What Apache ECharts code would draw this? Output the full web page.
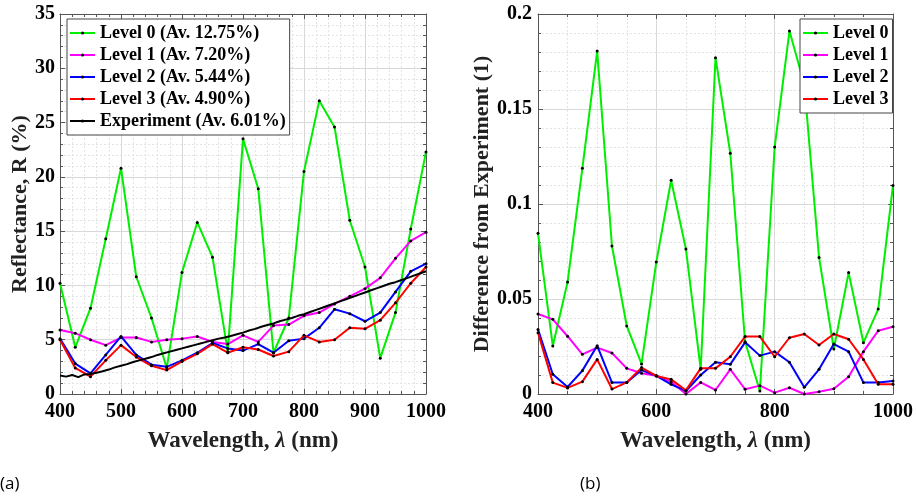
<!DOCTYPE html>
<html><head><meta charset="utf-8">
<script src="https://cdn.jsdelivr.net/npm/echarts@6/dist/echarts.min.js"></script>
<style>html,body{margin:0;padding:0;background:#fff}#c{width:916px;height:499px}</style>
</head><body><div id="c"></div>
<script>
// wavelengths (nm) of the simulated levels
const wl = [400,425,450,475,500,525,550,575,600,625,650,675,700,725,750,775,800,825,850,875,900,925,950,975,1000];
// (a) Reflectance (%)
const level0 = [10.2,4.3,7.9,14.3,20.8,10.8,7.0,2.4,11.2,15.8,12.6,3.9,23.5,18.9,3.8,7.0,20.5,27.0,24.6,16.0,11.7,3.3,7.5,15.2,22.3];
const level1 = [5.9,5.6,5.0,4.5,5.2,5.2,4.8,5.0,5.1,5.3,4.8,4.6,5.4,4.8,6.3,6.4,7.2,7.5,8.3,9.0,9.7,10.7,12.5,14.1,14.9];
const level2 = [5.1,2.8,1.9,3.6,5.3,3.6,2.7,2.5,3.1,3.8,4.7,4.2,4.0,4.6,3.8,4.9,5.1,6.1,7.8,7.4,6.7,7.5,9.4,11.3,12.0];
const level3 = [5.0,2.4,1.6,3.1,4.5,3.4,2.6,2.2,3.0,3.7,4.6,3.8,4.3,4.1,3.5,3.9,5.4,4.8,5.0,6.1,6.0,6.8,8.4,10.2,11.7];
// experiment (every 10 nm)
const expWl = [400,410,420,430,440,450,460,470,480,490,500,510,520,530,540,550,560,570,580,590,600,610,620,630,640,650,660,670,680,690,700,710,720,730,740,750,760,770,780,790,800,810,820,830,840,850,860,870,880,890,900,910,920,930,940,950,960,970,980,990,1000];
const expR = [1.7,1.6,1.75,1.55,1.8,1.85,1.95,2.1,2.25,2.45,2.6,2.75,2.95,3.1,3.25,3.4,3.6,3.75,3.9,4.05,4.2,4.35,4.5,4.65,4.8,4.95,5.1,5.2,5.35,5.5,5.65,5.85,6.0,6.2,6.35,6.5,6.7,6.85,7.0,7.2,7.35,7.55,7.75,7.95,8.15,8.35,8.55,8.75,8.95,9.15,9.35,9.55,9.75,9.95,10.15,10.3,10.5,10.7,10.9,11.1,11.3];
// (b) Difference from experiment (1)
const diff0 = [0.0846,0.0253,0.059,0.1188,0.1805,0.0779,0.0358,0.0158,0.0695,0.1125,0.0763,0.013,0.177,0.1267,0.0275,0.0016,0.130,0.191,0.163,0.0719,0.0237,0.0639,0.027,0.0447,0.1098];
const diff1 = [0.0421,0.0393,0.0304,0.0209,0.0244,0.0216,0.0135,0.0109,0.0096,0.0065,0.0,0.0061,0.0021,0.013,0.0025,0.0044,0.0007,0.0033,0.0,0.0012,0.0028,0.0091,0.0223,0.0333,0.0354];
const diff2 = [0.034,0.0104,0.0037,0.0123,0.0254,0.006,0.006,0.0126,0.0096,0.0051,0.0016,0.01,0.0167,0.0156,0.0272,0.0202,0.0223,0.0167,0.0035,0.013,0.0263,0.0223,0.006,0.006,0.0068];
const diff3 = [0.0323,0.006,0.0032,0.0065,0.0182,0.0026,0.0061,0.0139,0.0095,0.0077,0.0019,0.0135,0.0135,0.0196,0.0302,0.0302,0.0196,0.0296,0.0316,0.0258,0.0316,0.0288,0.0182,0.0051,0.0051];
const namesA = ['Level 0 (Av. 12.75%)','Level 1 (Av. 7.20%)','Level 2 (Av. 5.44%)','Level 3 (Av. 4.90%)','Experiment (Av. 6.01%)'];
const namesB = ['Level 0','Level 1','Level 2','Level 3'];
const colors = ['#00ee00','#ff00ff','#0000ff','#ff0000','#000000'];

const F = 'Liberation Serif';
const axisCol = '#555';
const zip = (xs, ys) => xs.map((x, i) => [x, ys[i]]);
const plain = v => String(v);

function xAx(grid, interval, split, pos) {
  const top = pos === 'top';
  return {
    type: 'value', gridIndex: grid, position: pos, min: 400, max: 1000, interval: interval,
    axisLine: { show: true, onZero: false, lineStyle: { color: axisCol, width: 1 } },
    axisTick: { show: true, inside: true, length: 5, lineStyle: { color: axisCol } },
    minorTick: { show: true, splitNumber: split, length: 3, lineStyle: { color: axisCol } },
    axisLabel: { show: !top, margin: 8, color: '#000', fontFamily: F, fontWeight: 'bold', fontSize: 20, formatter: plain },
    splitLine: { show: !top, lineStyle: { color: '#d8d8d8', width: 1 } },
    minorSplitLine: { show: !top, lineStyle: { color: '#e3e3e3', type: [2, 2], width: 1 } },
    name: top ? '' : '{b|Wavelength, }{i|λ}{b| (nm)}', nameLocation: 'middle', nameGap: 36,
    nameTextStyle: { rich: { b: { fontFamily: F, fontWeight: 'bold', fontSize: 23, color: '#222' },
                             i: { fontFamily: F, fontStyle: 'italic', fontWeight: 'bold', fontSize: 23, color: '#222' } } }
  };
}
function yAx(grid, max, interval, split, pos, name, gap, margin) {
  const right = pos === 'right';
  return {
    type: 'value', gridIndex: grid, position: pos, min: 0, max: max, interval: interval,
    axisLine: { show: true, onZero: false, lineStyle: { color: axisCol, width: 1 } },
    axisTick: { show: true, inside: true, length: 5, lineStyle: { color: axisCol } },
    minorTick: { show: true, splitNumber: split, length: 3, lineStyle: { color: axisCol } },
    axisLabel: { show: !right, margin: margin, color: '#000', fontFamily: F, fontWeight: 'bold', fontSize: 20, formatter: plain },
    splitLine: { show: !right, lineStyle: { color: '#d8d8d8', width: 1 } },
    minorSplitLine: { show: !right, lineStyle: { color: '#e3e3e3', type: [2, 2], width: 1 } },
    name: right ? '' : name, nameLocation: 'middle', nameGap: gap,
    nameTextStyle: { fontFamily: F, fontWeight: 'bold', fontSize: 22, color: '#222' }
  };
}
function ser(name, x, y, xi, yi, color, marker) {
  return {
    type: 'line', name: name, xAxisIndex: xi, yAxisIndex: yi, data: zip(x, y),
    symbol: marker ? 'circle' : 'none', symbolSize: 3, showSymbol: marker,
    itemStyle: { color: '#000' }, lineStyle: { color: color, width: 2 },
    emphasis: { disabled: true }, z: 3
  };
}
const legendBase = {
  orient: 'vertical', backgroundColor: '#fff', borderColor: '#444', borderWidth: 1,
  itemWidth: 25, itemHeight: 4, itemGap: 4, padding: [5, 4, 5, 2],
  textStyle: { fontFamily: F, fontWeight: 'bold', fontSize: 18, color: '#000', lineHeight: 17 },
  selectedMode: false
};

const option = {
  animation: false,
  backgroundColor: '#fff',
  grid: [
    { left: 60, right: 490, top: 14, bottom: 105, containLabel: false },
    { left: 538, right: 20, top: 14, bottom: 105, containLabel: false }
  ],
  xAxis: [xAx(0, 100, 5, 'bottom'), xAx(0, 100, 5, 'top'), xAx(1, 200, 4, 'bottom'), xAx(1, 200, 4, 'top')],
  yAxis: [
    yAx(0, 35, 5, 5, 'left', 'Reflectance, R (%)', 27, 5),
    yAx(0, 35, 5, 5, 'right', '', 0, 5),
    yAx(1, 0.2, 0.05, 5, 'left', 'Difference from Experiment (1)', 29, 6),
    yAx(1, 0.2, 0.05, 5, 'right', '', 0, 6)
  ],
  legend: [
    Object.assign({}, legendBase, { left: 67, top: 19, data: namesA }),
    Object.assign({}, legendBase, { left: 800, top: 19, data: namesB })
  ],
  series: [
    ser(namesA[0], wl, level0, 0, 0, colors[0], true),
    ser(namesA[1], wl, level1, 0, 0, colors[1], true),
    ser(namesA[2], wl, level2, 0, 0, colors[2], true),
    ser(namesA[3], wl, level3, 0, 0, colors[3], true),
    ser(namesA[4], expWl, expR, 0, 0, colors[4], false),
    ser(namesB[0], wl, diff0, 2, 2, colors[0], true),
    ser(namesB[1], wl, diff1, 2, 2, colors[1], true),
    ser(namesB[2], wl, diff2, 2, 2, colors[2], true),
    ser(namesB[3], wl, diff3, 2, 2, colors[3], true)
  ],
  graphic: [
    { type: 'text', left: 0, top: 476, style: { text: '(a)', font: '17px "Open Sans"', fill: '#000' } },
    { type: 'text', left: 580, top: 476, style: { text: '(b)', font: '17px "Open Sans"', fill: '#000' } }
  ]
};
const chart = echarts.init(document.getElementById('c'), null, { renderer: 'canvas' });
chart.setOption(option);
</script></body></html>
